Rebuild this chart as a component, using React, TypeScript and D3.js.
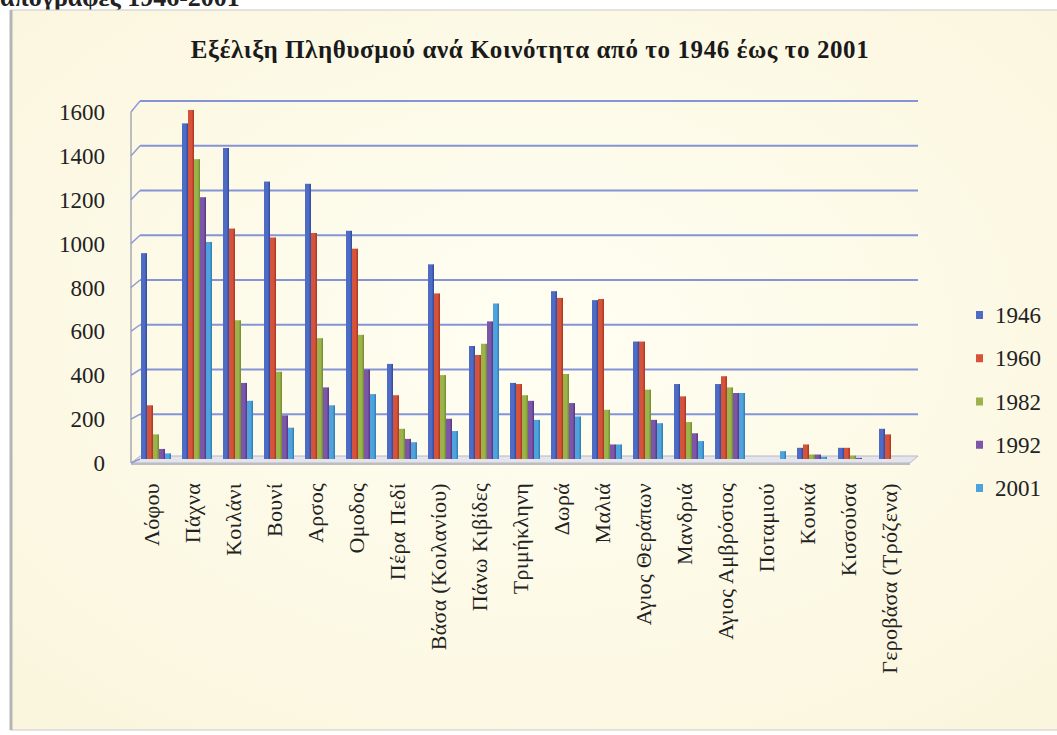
import React from 'react';
import * as d3 from 'd3';

const categories = ['Λόφου','Πάχνα','Κοιλάνι','Βουνί','Αρσος','Ομοδος','Πέρα Πεδί','Βάσα (Κοιλανίου)','Πάνω Κιβίδες','Τριμήκληνη','Δωρά','Μαλιά','Αγιος Θεράπων','Μανδριά','Αγιος Αμβρόσιος','Ποταμιού','Κουκά','Κισσούσα','Γεροβάσα (Τρόζενα)'];
const seriesNames = ['1946','1960','1982','1992','2001'];
const v1946 = [920,1500,1390,1240,1230,1020,425,870,505,340,750,710,525,335,335,0,50,50,135];
const v1960 = [240,1560,1030,990,1010,940,285,740,465,335,720,715,525,280,370,0,65,50,110];
const v1982 = [110,1340,620,390,540,555,135,375,515,285,380,220,310,165,320,0,20,15,0];
const v1992 = [45,1170,340,195,320,400,90,180,615,260,250,65,175,115,295,0,20,5,0];
const v2001 = [25,970,260,140,240,290,75,125,695,175,190,65,160,80,295,35,10,0,0];
const yTicks = [0,200,400,600,800,1000,1200,1400,1600];
const colors = ['#4E6CC4','#D4533A','#9CB34C','#7C56A8','#4FA3DC'];
const darkColors = ['#31489A','#A8361F','#6E8A2C','#553580','#2E78B3'];

const title = 'Εξέλιξη Πληθυσμού ανά Κοινότητα από το 1946 έως το 2001';
const topText = 'απογραφές 1946-2001';

export default function App() {
  const W = 1057, H = 735;
  const allSeries = [v1946, v1960, v1982, v1992, v2001];
  const x = d3.scaleBand<string>().domain(categories).range([131, 910]).paddingInner(0).paddingOuter(0);
  const xs = d3.scaleBand<string>().domain(seriesNames).range([10, 40]).padding(0);
  const yBack = d3.scaleLinear().domain([0, 1600]).range([459, 101]);
  const yFront = d3.scaleLinear().domain([0, 1600]).range([463, 112]);
  const depthX = 9;
  const gridRight = 918;
  const legendY = d3.scalePoint<string>().domain(seriesNames).range([315, 488]);

  return (
    <svg width={W} height={H} style={{ position: 'absolute', left: 0, top: 0 }} fontFamily="'Liberation Serif', 'Times New Roman', serif">
      <defs>
        <radialGradient id="bg" cx="50%" cy="45%" r="75%">
          <stop offset="0%" stopColor="#FFFEF2" />
          <stop offset="100%" stopColor="#FAF5DC" />
        </radialGradient>
        {colors.map((c, i) => (
          <linearGradient key={i} id={`bar${i}`} x1="0" x2="1" y1="0" y2="0">
            <stop offset="0%" stopColor={c} />
            <stop offset="60%" stopColor={c} />
            <stop offset="100%" stopColor={darkColors[i]} />
          </linearGradient>
        ))}
      </defs>
      <rect x={0} y={0} width={W} height={H} fill="#FFFFFF" />
      <text x={0} y={6} fontSize={26} fontWeight="bold" fill="#222">{topText}</text>
      <rect x={11} y={10} width={W} height={720} fill="url(#bg)" stroke="#C9C9C9" strokeWidth={1} />
      <line x1={11} x2={11} y1={10} y2={730} stroke="#B5B5B5" strokeWidth={3} />
      <text x={530} y={58} textAnchor="middle" fontSize={25} letterSpacing={0.6} fontWeight="bold" fill="#1A1A1A">{title}</text>

      {/* floor */}
      <polygon points={`131,${yFront(0)} ${131 + depthX},${yBack(0) - 3} ${gridRight},${yBack(0) - 3} ${gridRight - 8},${yFront(0)}`} fill="#E4E4EC" stroke="#B8B8C8" strokeWidth={1} />
      <line x1={131} x2={gridRight - 8} y1={yFront(0) + 1} y2={yFront(0) + 1} stroke="#BDBDBD" strokeWidth={2} />

      {/* left wall */}
      <line x1={131} x2={131} y1={yFront(1600)} y2={yFront(0)} stroke="#A9A9B3" strokeWidth={1.5} />
      {yTicks.map(t => (
        <g key={t}>
          <line x1={131} y1={yFront(t)} x2={131 + depthX} y2={yBack(t)} stroke="#8E9BD6" strokeWidth={1.5} />
          {t > 0 && <line x1={131 + depthX} x2={gridRight} y1={yBack(t)} y2={yBack(t)} stroke="#8594D6" strokeWidth={2} />}
          <text x={105} y={yFront(t)} dy="0.35em" textAnchor="end" fontSize={23} fill="#222">{t}</text>
        </g>
      ))}

      {/* bars */}
      {categories.map((c, ci) => (
        <g key={c}>
          {allSeries.map((vals, si) => {
            const v = vals[ci];
            if (v <= 0) return null;
            const bx = (x(c) as number) + (xs(seriesNames[si]) as number);
            const top = yBack(v);
            return <rect key={si} x={bx} y={top} width={xs.bandwidth()} height={yBack(0) - top} fill={`url(#bar${si})`} />;
          })}
        </g>
      ))}

      {/* category labels */}
      {categories.map(c => {
        const cx = (x(c) as number) + x.bandwidth() / 2;
        return (
          <text key={c} transform={`translate(${cx},483) rotate(-90)`} textAnchor="end" dy="0.35em" fontSize={22} letterSpacing={0.3} fill="#222">{c}</text>
        );
      })}

      {/* legend */}
      {seriesNames.map((s, i) => (
        <g key={s}>
          <rect x={976} y={(legendY(s) as number) - 4} width={7} height={8} fill={colors[i]} />
          <text x={995} y={legendY(s) as number} dy="0.35em" fontSize={23} fill="#222">{s}</text>
        </g>
      ))}
    </svg>
  );
}
